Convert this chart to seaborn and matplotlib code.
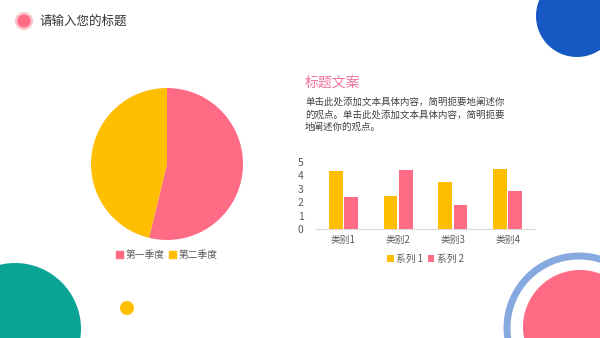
import numpy as np
import pandas as pd
import matplotlib
matplotlib.use("Agg")
from matplotlib import pyplot as plt
from matplotlib.patches import Circle, Patch
import seaborn as sns

# data
pie_labels = ["第一季度", "第二季度"]
pie_values = [53.8, 46.2]
categories = ["类别1", "类别2", "类别3", "类别4"]
series_names = ["系列 1", "系列 2"]
series1 = [4.3, 2.5, 3.5, 4.5]
series2 = [2.4, 4.4, 1.8, 2.8]
yticks = [0, 1, 2, 3, 4, 5]

PINK = "#FF6B84"
YELLOW = "#FFBE00"
TEAL = "#0AA497"
BLUE = "#1659C2"
LBLUE = "#86A9DF"

sns.set_theme(style="white")
plt.rcParams['font.family'] = ['Noto Sans CJK SC', 'DejaVu Sans']

W, H = 600, 338
fig = plt.figure(figsize=(6, 3.38), dpi=100)
fig.patch.set_facecolor("white")

def px_axes(left, top, width, height, **kw):
    # axes placed in pixel coordinates (top-left origin)
    return fig.add_axes([left / W, 1 - (top + height) / H, width / W, height / H], **kw)

# background decorations
bg = px_axes(0, 0, W, H)
bg.set_xlim(0, W)
bg.set_ylim(H, 0)
bg.axis("off")
bg.add_patch(Circle((577, 16), 41, color=BLUE, lw=0))
bg.add_patch(Circle((15, 329), 66, color=TEAL, lw=0))
bg.add_patch(Circle((127, 308), 7, color=YELLOW, lw=0))
bg.add_patch(Circle((579, 328), 72, fill=False, ec=LBLUE, lw=5))
bg.add_patch(Circle((580, 327), 57, color=PINK, lw=0))
bg.add_patch(Circle((24, 21), 9, color="#FBC3CD", lw=0))
bg.add_patch(Circle((24, 21), 6.5, color=PINK, lw=0))
bg.text(40, 21, "请输入您的标题", fontsize=9, color="#333333", va="center", ha="left")
bg.text(305, 83, "标题文案", fontsize=10, color="#F0749A", va="center", ha="left")
body = ["单击此处添加文本具体内容，简明扼要地阐述你",
        "的观点。单击此处添加文本具体内容，简明扼要",
        "地阐述你的观点。"]
for i, line in enumerate(body):
    bg.text(305, 102 + i * 12.5, line, fontsize=6.8, color="#404040", va="center", ha="left")

# pie chart
pax = px_axes(91, 88, 152, 152)
pax.pie(pie_values, colors=[PINK, YELLOW], startangle=90, counterclock=False,
        wedgeprops=dict(linewidth=0))
pax.set_xlim(-1, 1)
pax.set_ylim(-1, 1)
pax.set_aspect("equal")
pax.legend(handles=[Patch(color=PINK, label=pie_labels[0]), Patch(color=YELLOW, label=pie_labels[1])],
           loc="center", bbox_to_anchor=(0.5, -0.1), ncol=2, frameon=False, fontsize=7,
           handlelength=0.7, handleheight=0.7, handletextpad=0.3, columnspacing=0.4,
           labelcolor="#595959")

# bar chart
df = pd.DataFrame({
    "category": categories * 2,
    "series": [series_names[0]] * 4 + [series_names[1]] * 4,
    "value": series1 + series2,
})
bax = px_axes(316, 162, 219, 67)
sns.barplot(data=df, x="category", y="value", hue="series", palette=[YELLOW, PINK],
            width=0.56, gap=0.1, ax=bax, saturation=1, edgecolor="none")
bax.set_ylim(0, 5)
bax.set_yticks(yticks)
bax.set_xlabel("")
bax.set_ylabel("")
for s in ["top", "right", "left"]:
    bax.spines[s].set_visible(False)
bax.spines["bottom"].set_color("#D9D9D9")
bax.spines["bottom"].set_linewidth(0.8)
bax.tick_params(axis="both", length=0, labelsize=7, colors="#595959", pad=4)
bax.tick_params(axis="y", pad=9, labelsize=7.5)
bax.legend(loc="center", bbox_to_anchor=(0.5, -0.45), ncol=2, frameon=False, fontsize=7,
           handlelength=0.7, handleheight=0.7, handletextpad=0.3, columnspacing=0.4,
           labelcolor="#595959")

fig.savefig("out.png", dpi=100, facecolor="white")
